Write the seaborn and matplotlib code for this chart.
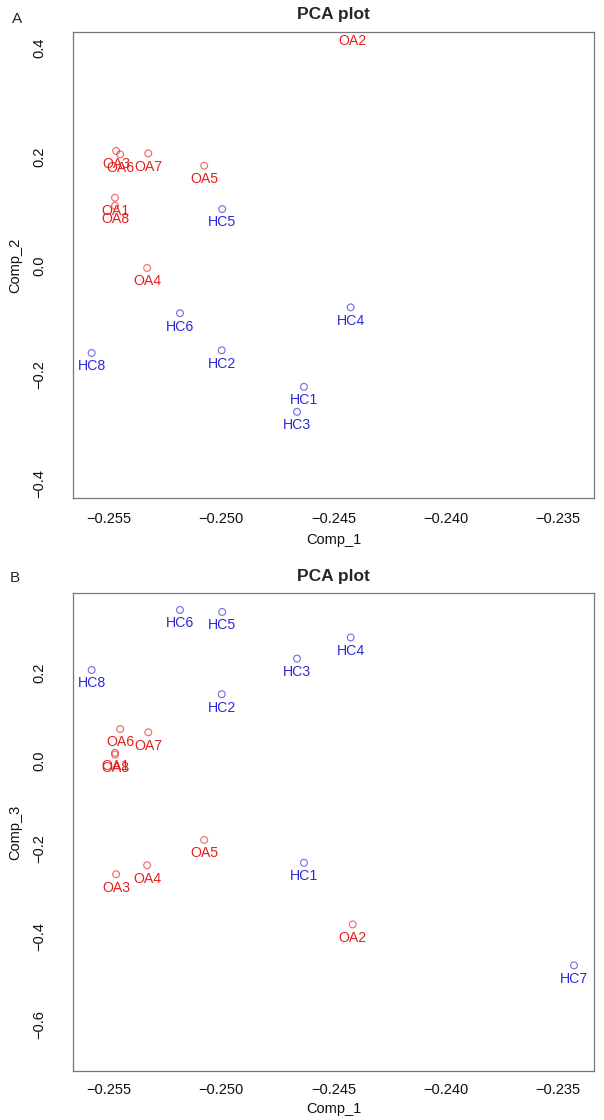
import matplotlib
matplotlib.use("Agg")
import matplotlib.pyplot as plt
import seaborn as sns
import pandas as pd

# ---- data ----
samples = ["OA1", "OA2", "OA3", "OA4", "OA5", "OA6", "OA7", "OA8",
           "HC1", "HC2", "HC3", "HC4", "HC5", "HC6", "HC7", "HC8"]
groups = ["OA"] * 8 + ["HC"] * 8
comp1 = [-0.25473, -0.24415, -0.25468, -0.25330, -0.25076, -0.25450, -0.25325, -0.25473,
         -0.24632, -0.24998, -0.24663, -0.24424, -0.24996, -0.25184, -0.23430, -0.25577]
# Comp_2 (HC7 not visible in panel A)
comp2 = [0.1248, 0.4370, 0.2105, -0.0040, 0.1835, 0.2044, 0.2062, 0.1100,
         -0.2220, -0.1550, -0.2680, -0.0763, 0.1040, -0.0870, None, -0.1600]
comp3 = [0.0180, -0.3720, -0.2580, -0.2377, -0.1800, 0.0720, 0.0645, 0.0140,
         -0.2320, 0.1510, 0.2320, 0.2800, 0.3380, 0.3425, -0.4650, 0.2060]
xticks = [-0.255, -0.250, -0.245, -0.240, -0.235]
yticks_a = [-0.4, -0.2, 0.0, 0.2, 0.4]
yticks_b = [-0.6, -0.4, -0.2, 0.0, 0.2]

df = pd.DataFrame({"sample": samples, "group": groups,
                   "Comp_1": comp1, "Comp_2": comp2, "Comp_3": comp3})

RED = "#E3211C"
BLUE = "#2A2AD6"
palette = {"OA": RED, "HC": BLUE}

sns.set_style("white")
plt.rcParams["font.family"] = ["Liberation Sans", "DejaVu Sans"]

W, H = 604, 1120
fig = plt.figure(figsize=(W / 100, H / 100), dpi=100)


def px_axes(left, top, right, bottom):
    return fig.add_axes([left / W, 1 - bottom / H, (right - left) / W, (bottom - top) / H])


def panel(ax, ycol, ylim, yticks, height_px, tick_pad, xlab_gap):
    d = df.dropna(subset=[ycol])
    sns.scatterplot(data=d, x="Comp_1", y=ycol, hue="group", palette=palette,
                    s=24, linewidth=0.85, legend=False, ax=ax)
    coll = ax.collections[-1]
    fc = coll.get_facecolors()
    coll.set_edgecolors(fc)
    coll.set_facecolors("none")
    coll.set_alpha(0.65)
    for _, r in d.iterrows():
        ax.annotate(r["sample"], (r["Comp_1"], r[ycol]), xytext=(0, -9.6),
                    textcoords="offset points", ha="center", va="center",
                    color=palette[r["group"]], fontsize=10.2, annotation_clip=False)
    ax.set_xlim(-0.2566, -0.23341)
    ax.set_ylim(*ylim)
    ax.set_xticks(xticks)
    ax.set_xticklabels([f"{t:.3f}".replace("-", "\u2212") for t in xticks])
    ax.set_yticks(yticks)
    ax.set_yticklabels([f"{t:.1f}".replace("-", "\u2212") for t in yticks])
    ax.tick_params(axis="both", direction="out", length=5, width=0.8,
                   color="#555555", labelsize=10.5, labelcolor="#111111")
    ax.tick_params(axis="x", pad=tick_pad)
    ax.tick_params(axis="y", pad=14, labelrotation=90)
    for lab in ax.get_yticklabels():
        lab.set_va("center")
    for sp in ax.spines.values():
        sp.set_color("#777777")
        sp.set_linewidth(0.9)
    ax.set_xlabel("Comp_1", fontsize=10.5, color="#111111")
    ax.set_ylabel(ycol, fontsize=10.5, color="#111111")
    ax.xaxis.set_label_coords(0.5, -xlab_gap / height_px)
    ax.yaxis.set_label_coords(-58 / 521, 0.5)
    ax.xaxis.label.set_va("center")
    ax.yaxis.label.set_va("center")


ax1 = px_axes(73, 32, 594, 498)
panel(ax1, "Comp_2", (-0.426, 0.4288), yticks_a, 466, 5, 42)
ax2 = px_axes(73, 593, 594, 1071)
panel(ax2, "Comp_3", (-0.705, 0.381), yticks_b, 478, 4, 38)

fig.text(333.5 / W, 1 - 15 / H, "PCA plot", ha="center", va="center",
         fontsize=12.5, fontweight="bold")
fig.text(333.5 / W, 1 - 576 / H, "PCA plot", ha="center", va="center",
         fontsize=12.5, fontweight="bold")
fig.text(17 / W, 1 - 19 / H, "A", ha="center", va="center", fontsize=11)
fig.text(15 / W, 1 - 578 / H, "B", ha="center", va="center", fontsize=11)

fig.savefig("out.png", dpi=100)
